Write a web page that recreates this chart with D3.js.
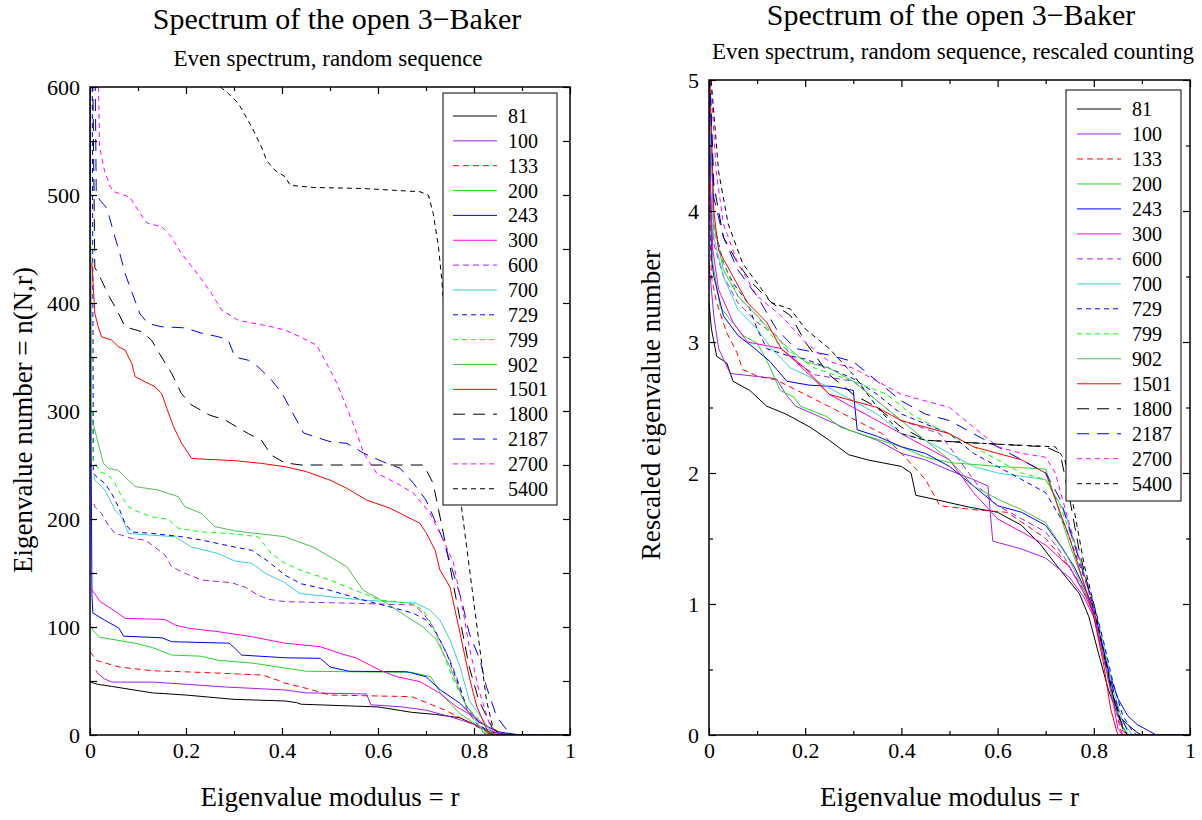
<!DOCTYPE html>
<html><head><meta charset="utf-8">
<script src="https://cdn.jsdelivr.net/npm/d3@7/dist/d3.min.js"></script>
<style>
body{margin:0;background:#fff;}
text{font-family:"Liberation Serif","Times New Roman",serif;fill:#000;}
</style></head>
<body>
<svg id="chart" width="1202" height="820"></svg>
<script>
// ---------- DATA ----------
const seriesNames = ["81","100","133","200","243","300","600","700","729","799","902","1501","1800","2187","2700","5400"];
const seriesColors = ["#000000","#a020f0","#ff0000","#22dd22","#0000ff","#ff00dd","#a020f0","#40d0d0","#0000ff","#00ff00","#50c050","#ff0000","#000000","#0000ff","#ff00ff","#000000"];
const seriesDash = ["","","6,4","","","","6,4","","5,4","5,4","","","12,8","12,8","5,4","5,4"];

const xTicksMajor = [0,0.2,0.4,0.6,0.8,1];
const xTickLabels = ["0","0.2","0.4","0.6","0.8","1"];
const xTicksMinor = [0.1,0.3,0.5,0.7,0.9];
const leftYTicks = [0,100,200,300,400,500,600];
const leftYMinor = [50,150,250,350,450,550];
const rightYTicks = [0,1,2,3,4,5];
const rightYMinor = [0.5,1.5,2.5,3.5,4.5];

// Left panel: eigenvalue number n(N,r) vs r
const left81   = [[0,50],[0.002,49],[0.015,47],[0.045,45],[0.13,39],[0.2,37],[0.3,33],[0.406,31.5],[0.43,30],[0.44,28.5],[0.6,26],[0.67,21],[0.72,19],[0.77,16],[0.8,10],[0.83,3],[0.86,1],[0.9,0],[1,0]];
const left100  = [[0.012,60],[0.016,57],[0.03,52],[0.045,49],[0.13,49],[0.2,47],[0.28,44.5],[0.406,41.7],[0.45,39],[0.576,38],[0.585,28],[0.65,26],[0.7,23],[0.75,17],[0.8,10],[0.84,3],[0.87,0],[1,0]];
const left133  = [[0,77],[0.014,69],[0.06,63],[0.13,59.5],[0.23,58],[0.36,55.5],[0.396,50],[0.406,48],[0.44,44.5],[0.5,37],[0.67,35.5],[0.74,23],[0.78,14],[0.83,2],[0.86,0],[1,0]];
const left200  = [[0.004,100],[0.006,97],[0.02,90.5],[0.094,85],[0.13,81],[0.17,74],[0.23,73],[0.27,69],[0.34,66.5],[0.406,62],[0.45,59],[0.67,58],[0.71,54],[0.73,39],[0.77,20],[0.83,2],[0.86,0],[1,0]];
const left243  = [[0,700],[0.002,300],[0.004,130],[0.006,113],[0.03,106.5],[0.06,99],[0.07,91.5],[0.15,90],[0.17,86.4],[0.29,85],[0.3,81],[0.316,74],[0.406,71.5],[0.48,71],[0.5,63],[0.54,59],[0.66,58.6],[0.7,54],[0.73,41.7],[0.77,29.6],[0.81,12],[0.85,3],[0.88,1],[0.9,0],[1,0]];
const left300  = [[0.004,135],[0.007,132.7],[0.021,123.5],[0.038,118.8],[0.059,112.7],[0.073,108],[0.156,107],[0.177,101.9],[0.205,98.8],[0.267,95.7],[0.337,91],[0.406,85],[0.479,81.8],[0.521,75.6],[0.556,71],[0.604,60],[0.639,54],[0.6875,49.4],[0.729,38.6],[0.764,26],[0.8,17],[0.85,0],[1,0]];
const left600  = [[0.008,214],[0.01,211.4],[0.024,205],[0.038,194.4],[0.052,186.7],[0.066,185],[0.087,182],[0.115,180.5],[0.135,174],[0.156,166.7],[0.17,155.8],[0.198,149.7],[0.233,143.5],[0.295,141],[0.323,137],[0.35,129.6],[0.372,125.6],[0.406,123.5],[0.604,121.3],[0.674,120.4],[0.694,112.7],[0.715,100],[0.729,88],[0.75,69.4],[0.771,44.7],[0.785,23],[0.82,2],[0.84,0],[1,0]];
const left700  = [[0.008,240],[0.01,236],[0.031,226.8],[0.042,217.6],[0.052,208],[0.066,202],[0.08,186.7],[0.128,185],[0.177,183.6],[0.212,174],[0.267,168],[0.302,161],[0.337,159],[0.365,149.7],[0.406,141],[0.4375,131],[0.5,128],[0.569,125],[0.68,122],[0.708,115.7],[0.729,106.5],[0.75,88],[0.771,63],[0.79,32],[0.84,1],[0.86,0],[1,0]];
const left729  = [[0.004,700],[0.006,400],[0.007,242],[0.017,237.7],[0.031,233],[0.045,223.8],[0.059,211.4],[0.073,196],[0.087,188],[0.128,186.7],[0.184,184],[0.233,180.5],[0.302,174],[0.337,171],[0.372,160.5],[0.406,148],[0.44,140],[0.5,134],[0.569,125],[0.639,117],[0.674,112.7],[0.7,106.5],[0.722,94],[0.743,75.6],[0.764,51],[0.785,26],[0.83,1],[0.85,0],[1,0]];
const left799  = [[0.005,300],[0.007,254.6],[0.021,243.8],[0.038,240.7],[0.052,233],[0.066,220.6],[0.08,211.4],[0.1,206.8],[0.128,202],[0.163,199.7],[0.184,191.4],[0.233,188],[0.288,186.7],[0.35,183.6],[0.378,168],[0.406,159],[0.4375,152.8],[0.5,143.5],[0.535,137],[0.604,125],[0.667,122],[0.694,115.7],[0.715,100],[0.736,75.6],[0.757,51],[0.785,26],[0.84,1],[0.86,0],[1,0]];
const left902  = [[0.001,470],[0.002,400],[0.003,294.7],[0.017,270],[0.028,251.5],[0.038,247],[0.059,245],[0.073,239],[0.094,230],[0.142,226.8],[0.184,220.6],[0.198,211.4],[0.233,205],[0.26,193],[0.302,189],[0.406,183.6],[0.465,174],[0.5,165],[0.535,155.8],[0.569,134],[0.618,122],[0.66,109.5],[0.694,100],[0.722,88],[0.75,63],[0.778,32],[0.82,2],[0.84,0],[1,0]];
const left1501 = [[0.004,437],[0.01,390.6],[0.017,378],[0.024,368.8],[0.045,365.7],[0.059,359.6],[0.073,356.5],[0.087,344],[0.094,331.8],[0.115,327],[0.135,322.5],[0.149,316.4],[0.16,302.5],[0.174,285.5],[0.191,270],[0.212,256],[0.302,254],[0.357,251.5],[0.406,248.5],[0.451,243.8],[0.5,236],[0.535,228.4],[0.576,217.6],[0.625,210],[0.653,203.7],[0.6875,196],[0.701,186.7],[0.719,171],[0.729,152.8],[0.75,137],[0.771,94],[0.79,54],[0.806,26],[0.83,2],[0.85,0],[1,0]];
const left1800 = [[0.004,700],[0.006,600],[0.01,433],[0.024,421],[0.04,406],[0.056,393.5],[0.073,378],[0.108,373.4],[0.128,365.7],[0.149,350],[0.17,335],[0.19,316.5],[0.21,306],[0.25,296],[0.28,292],[0.33,279],[0.357,273],[0.378,259],[0.406,252],[0.44,250],[0.695,250],[0.715,233],[0.736,187],[0.75,156],[0.77,109],[0.79,63],[0.81,32],[0.84,5],[0.86,0],[1,0]];
const left2187 = [[0.009,700],[0.011,600],[0.013,502],[0.021,495],[0.033,489],[0.04,480],[0.052,461],[0.062,446],[0.073,427.5],[0.088,409],[0.104,390],[0.121,381],[0.149,378],[0.198,377],[0.233,372],[0.267,368.8],[0.288,365.7],[0.302,350],[0.33,347],[0.35,341],[0.378,328.7],[0.4,316.5],[0.42,300],[0.445,279.6],[0.5,271.6],[0.535,270],[0.57,261],[0.61,253],[0.646,247],[0.674,233],[0.7,217.6],[0.736,180.5],[0.757,150],[0.774,125],[0.79,94.4],[0.8125,69.4],[0.826,44.7],[0.847,17],[0.875,1],[0.89,0],[1,0]];
const left2700 = [[0.015,700],[0.017,620],[0.02,544.7],[0.03,523],[0.042,507.7],[0.05,503],[0.083,498],[0.104,483],[0.12,473.8],[0.149,470.7],[0.17,461],[0.19,446],[0.218,430.5],[0.253,409],[0.274,393.5],[0.309,384],[0.378,378],[0.406,375],[0.4375,368.8],[0.472,361],[0.493,344],[0.514,326],[0.535,303],[0.556,279.6],[0.57,261],[0.597,242.6],[0.639,233],[0.674,224],[0.708,205.6],[0.736,180.5],[0.757,160],[0.778,113],[0.79,81.8],[0.81,41.7],[0.833,9],[0.85,1],[0.87,0],[1,0]];
const left5400 = [[0,2000],[0.2,700],[0.25,620],[0.267,601.8],[0.288,594],[0.309,585],[0.337,563],[0.357,544.7],[0.368,532],[0.385,523],[0.406,517],[0.417,509],[0.465,507],[0.569,506],[0.6875,503],[0.705,500],[0.715,483],[0.726,452],[0.733,421],[0.745,350],[0.76,270],[0.774,211],[0.79,156],[0.8125,78.7],[0.826,32],[0.84,6],[0.86,0],[1,0]];

// Right panel: rescaled eigenvalue number vs r
const right81   = [[0,3.3],[0.005,3.1],[0.016,2.89],[0.037,2.84],[0.05,2.7],[0.085,2.63],[0.12,2.51],[0.16,2.45],[0.21,2.35],[0.25,2.25],[0.29,2.14],[0.33,2.1],[0.4,2.05],[0.42,2.0],[0.43,1.83],[0.48,1.79],[0.54,1.74],[0.6,1.7],[0.65,1.6],[0.69,1.45],[0.73,1.26],[0.77,1.08],[0.79,0.9],[0.81,0.62],[0.83,0.35],[0.85,0.15],[0.87,0.08],[0.89,0.02],[0.9,0],[1,0]];
const right100  = [[0,3.6],[0.01,3.2],[0.02,2.95],[0.044,2.76],[0.14,2.72],[0.16,2.6],[0.18,2.51],[0.23,2.43],[0.29,2.33],[0.35,2.25],[0.4,2.15],[0.45,2.1],[0.5,2.02],[0.55,1.95],[0.58,1.9],[0.59,1.48],[0.65,1.42],[0.7,1.35],[0.75,1.2],[0.78,1.05],[0.8,0.9],[0.82,0.6],[0.84,0.3],[0.86,0.06],[0.87,0],[1,0]];
const right133  = [[0,4.2],[0.005,3.5],[0.016,3.3],[0.037,3.07],[0.058,2.92],[0.07,2.79],[0.1,2.74],[0.14,2.71],[0.2,2.6],[0.28,2.45],[0.36,2.3],[0.4,2.15],[0.45,1.95],[0.48,1.75],[0.55,1.72],[0.62,1.7],[0.66,1.6],[0.7,1.5],[0.75,1.28],[0.78,1.1],[0.8,0.92],[0.82,0.6],[0.84,0.28],[0.855,0.05],[0.86,0],[1,0]];
const right200  = [[0,4.5],[0.008,3.6],[0.023,3.27],[0.044,3.17],[0.071,3.05],[0.1,2.99],[0.12,2.86],[0.148,2.63],[0.176,2.58],[0.19,2.51],[0.245,2.43],[0.273,2.35],[0.33,2.28],[0.4,2.2],[0.45,2.12],[0.5,2.08],[0.6,2.05],[0.7,2.03],[0.72,1.8],[0.75,1.45],[0.78,1.15],[0.8,0.95],[0.82,0.65],[0.84,0.3],[0.86,0.05],[0.87,0],[1,0]];
const right243  = [[0,5.2],[0.005,3.64],[0.01,3.5],[0.03,3.2],[0.06,3.05],[0.092,2.96],[0.127,2.85],[0.162,2.7],[0.21,2.67],[0.26,2.66],[0.3,2.63],[0.308,2.33],[0.35,2.28],[0.4,2.2],[0.45,2.15],[0.5,2.05],[0.55,1.9],[0.6,1.75],[0.65,1.7],[0.7,1.6],[0.73,1.45],[0.76,1.28],[0.79,1.05],[0.81,0.8],[0.83,0.5],[0.85,0.28],[0.87,0.15],[0.89,0.08],[0.91,0.04],[0.93,0],[1,0]];
const right300  = [[0,4.5],[0.008,3.7],[0.02,3.4],[0.05,3.15],[0.08,3.0],[0.15,2.95],[0.18,2.85],[0.25,2.6],[0.3,2.5],[0.4,2.3],[0.5,2.1],[0.55,1.85],[0.6,1.65],[0.65,1.55],[0.7,1.45],[0.75,1.28],[0.78,1.08],[0.8,0.92],[0.82,0.6],[0.84,0.25],[0.85,0.05],[0.86,0],[1,0]];
const right600  = [[0,5.2],[0.01,3.75],[0.03,3.5],[0.06,3.3],[0.1,3.15],[0.14,3.05],[0.18,2.85],[0.22,2.75],[0.3,2.7],[0.35,2.55],[0.4,2.4],[0.48,2.3],[0.52,2.1],[0.56,1.9],[0.6,1.75],[0.65,1.65],[0.7,1.55],[0.74,1.35],[0.77,1.15],[0.8,0.95],[0.82,0.65],[0.84,0.3],[0.86,0.06],[0.87,0],[1,0]];
const right700  = [[0,5.2],[0.01,3.8],[0.03,3.5],[0.06,3.25],[0.1,3.1],[0.13,2.95],[0.17,2.8],[0.2,2.75],[0.25,2.65],[0.3,2.55],[0.35,2.45],[0.4,2.3],[0.45,2.25],[0.5,2.15],[0.55,2.05],[0.6,2.0],[0.7,1.95],[0.74,1.7],[0.77,1.35],[0.8,1.0],[0.82,0.7],[0.84,0.35],[0.86,0.1],[0.88,0],[1,0]];
const right729  = [[0,5.2],[0.01,3.9],[0.03,3.6],[0.05,3.45],[0.08,3.3],[0.1,3.1],[0.12,2.95],[0.16,2.9],[0.2,2.87],[0.25,2.8],[0.3,2.72],[0.35,2.6],[0.4,2.45],[0.5,2.3],[0.55,2.15],[0.6,2.05],[0.65,1.95],[0.7,1.85],[0.74,1.6],[0.77,1.3],[0.8,1.0],[0.82,0.72],[0.84,0.4],[0.86,0.15],[0.88,0.03],[0.89,0],[1,0]];
const right799  = [[0,5.2],[0.01,3.85],[0.03,3.6],[0.06,3.35],[0.1,3.2],[0.14,3.0],[0.18,2.9],[0.22,2.8],[0.3,2.7],[0.37,2.6],[0.42,2.45],[0.47,2.35],[0.55,2.2],[0.6,2.1],[0.65,2.0],[0.7,1.95],[0.73,1.75],[0.76,1.45],[0.79,1.1],[0.81,0.8],[0.83,0.45],[0.85,0.15],[0.87,0],[1,0]];
const right902  = [[0,5.2],[0.01,3.9],[0.03,3.55],[0.06,3.35],[0.1,3.2],[0.15,3.0],[0.2,2.85],[0.25,2.8],[0.3,2.7],[0.35,2.55],[0.4,2.4],[0.45,2.25],[0.5,2.1],[0.55,1.9],[0.6,1.8],[0.65,1.72],[0.7,1.62],[0.74,1.4],[0.77,1.18],[0.8,0.95],[0.82,0.62],[0.84,0.28],[0.86,0.05],[0.87,0],[1,0]];
const right1501 = [[0,5.2],[0.01,4.0],[0.02,3.7],[0.05,3.5],[0.08,3.3],[0.12,3.15],[0.15,2.95],[0.2,2.8],[0.25,2.6],[0.3,2.55],[0.35,2.5],[0.4,2.4],[0.45,2.35],[0.5,2.3],[0.55,2.2],[0.6,2.15],[0.65,2.1],[0.7,2.0],[0.72,1.8],[0.75,1.5],[0.78,1.15],[0.8,0.9],[0.82,0.55],[0.835,0.2],[0.85,0],[1,0]];
const right1800 = [[0,5.2],[0.01,4.2],[0.03,3.8],[0.06,3.6],[0.09,3.45],[0.13,3.3],[0.17,3.2],[0.2,3.0],[0.25,2.75],[0.3,2.6],[0.35,2.5],[0.4,2.35],[0.45,2.25],[0.55,2.23],[0.7,2.2],[0.73,2.15],[0.75,1.8],[0.77,1.4],[0.79,1.1],[0.81,0.8],[0.83,0.45],[0.85,0.15],[0.87,0],[1,0]];
const right2187 = [[0,5.2],[0.01,4.1],[0.03,3.8],[0.06,3.55],[0.1,3.35],[0.14,3.1],[0.18,2.95],[0.25,2.9],[0.3,2.85],[0.35,2.7],[0.4,2.55],[0.45,2.45],[0.5,2.4],[0.55,2.3],[0.6,2.2],[0.65,2.1],[0.7,2.0],[0.73,1.8],[0.76,1.45],[0.79,1.1],[0.81,0.8],[0.83,0.5],[0.85,0.2],[0.87,0.03],[0.88,0],[1,0]];
const right2700 = [[0,5.2],[0.015,4.3],[0.03,3.9],[0.06,3.6],[0.1,3.35],[0.15,3.2],[0.2,3.0],[0.25,2.85],[0.3,2.8],[0.35,2.7],[0.4,2.6],[0.45,2.55],[0.5,2.5],[0.55,2.35],[0.6,2.2],[0.65,2.15],[0.7,2.12],[0.72,2.0],[0.75,1.6],[0.78,1.22],[0.8,0.95],[0.82,0.6],[0.84,0.25],[0.86,0.03],[0.87,0],[1,0]];
const right5400 = [[0,5.2],[0.02,4.3],[0.04,3.9],[0.07,3.6],[0.1,3.45],[0.13,3.3],[0.17,3.25],[0.2,3.1],[0.25,2.95],[0.3,2.75],[0.35,2.5],[0.4,2.3],[0.45,2.25],[0.6,2.22],[0.72,2.2],[0.74,2.1],[0.76,1.7],[0.78,1.3],[0.8,1.0],[0.82,0.65],[0.84,0.3],[0.86,0.05],[0.87,0],[1,0]];

const leftSeries  = [left81,left100,left133,left200,left243,left300,left600,left700,left729,left799,left902,left1501,left1800,left2187,left2700,left5400];
const rightSeries = [right81,right100,right133,right200,right243,right300,right600,right700,right729,right799,right902,right1501,right1800,right2187,right2700,right5400];

// ---------- DRAW ----------
const svg = d3.select("#chart");
const SERIF = '"Liberation Serif","Times New Roman",serif';

function panel(cfg){
  const g = svg.append("g");
  const x = d3.scaleLinear().domain([0,1]).range([cfg.x0,cfg.x1]);
  const y = d3.scaleLinear().domain(cfg.ydom).range([cfg.y0,cfg.y1]);
  const clipId = "clip"+cfg.id;
  svg.append("clipPath").attr("id",clipId).append("rect")
    .attr("x",cfg.x0).attr("y",cfg.y1).attr("width",cfg.x1-cfg.x0).attr("height",cfg.y0-cfg.y1);

  const line = d3.line().x(d=>x(d[0])).y(d=>y(d[1]));
  const curves = g.append("g").attr("clip-path",`url(#${clipId})`);
  cfg.series.forEach((s,i)=>{
    curves.append("path").attr("d",line(s)).attr("fill","none")
      .attr("stroke",seriesColors[i]).attr("stroke-width",1)
      .attr("stroke-dasharray",seriesDash[i]||null);
  });

  // axes with inward ticks
  g.append("g").attr("transform",`translate(0,${cfg.y0})`)
    .call(d3.axisBottom(x).tickValues(xTicksMajor).tickFormat((d,i)=>xTickLabels[i]).tickSize(-7).tickPadding(7));
  g.append("g").attr("transform",`translate(0,${cfg.y0})`)
    .call(d3.axisBottom(x).tickValues(xTicksMinor).tickFormat("").tickSize(-4));
  g.append("g").attr("transform",`translate(0,${cfg.y1})`)
    .call(d3.axisTop(x).tickValues(xTicksMajor).tickFormat("").tickSize(-7));
  g.append("g").attr("transform",`translate(0,${cfg.y1})`)
    .call(d3.axisTop(x).tickValues(xTicksMinor).tickFormat("").tickSize(-4));
  g.append("g").attr("transform",`translate(${cfg.x0},0)`)
    .call(d3.axisLeft(y).tickValues(cfg.yticks).tickFormat(d3.format("d")).tickSize(-7).tickPadding(10));
  g.append("g").attr("transform",`translate(${cfg.x0},0)`)
    .call(d3.axisLeft(y).tickValues(cfg.yminor).tickFormat("").tickSize(-cfg.minorLen));
  g.append("g").attr("transform",`translate(${cfg.x1},0)`)
    .call(d3.axisRight(y).tickValues(cfg.yticks).tickFormat("").tickSize(-7));
  g.append("g").attr("transform",`translate(${cfg.x1},0)`)
    .call(d3.axisRight(y).tickValues(cfg.yminor).tickFormat("").tickSize(-cfg.minorLen));
  g.selectAll(".domain").remove();
  g.selectAll(".tick line").attr("stroke","#000").attr("stroke-width",1.2);
  g.selectAll(".tick text").attr("font-family",SERIF).attr("font-size",22).attr("fill","#000");

  // frame
  g.append("rect").attr("x",cfg.x0).attr("y",cfg.y1).attr("width",cfg.x1-cfg.x0).attr("height",cfg.y0-cfg.y1)
    .attr("fill","none").attr("stroke","#000").attr("stroke-width",1.5);

  // legend
  const L = cfg.legend;
  g.append("rect").attr("x",L.x).attr("y",L.y).attr("width",L.w).attr("height",L.h)
    .attr("fill","#fff").attr("stroke","#000").attr("stroke-width",1);
  seriesNames.forEach((nm,i)=>{
    const yy = L.first + i*L.step;
    g.append("line").attr("x1",L.sx0).attr("x2",L.sx1).attr("y1",yy).attr("y2",yy)
      .attr("stroke",seriesColors[i]).attr("stroke-width",1).attr("stroke-dasharray",seriesDash[i]||null);
    g.append("text").attr("x",L.tx).attr("y",yy).attr("dy","0.35em").attr("font-size",20).text(nm);
  });

  // titles
  g.append("text").attr("x",cfg.tcx).attr("y",cfg.ty).attr("text-anchor","middle").attr("font-size",30).text("Spectrum of the open 3\u2212Baker");
  g.append("text").attr("x",cfg.scx).attr("y",cfg.sy).attr("text-anchor","middle").attr("font-size",23).text(cfg.subtitle);
  g.append("text").attr("x",(cfg.x0+cfg.x1)/2).attr("y",806).attr("text-anchor","middle").attr("font-size",27).text("Eigenvalue modulus = r");
  g.append("text").attr("transform",`translate(${cfg.ylx},${cfg.yly}) rotate(-90)`).attr("text-anchor","middle").attr("font-size",27).text(cfg.ylabel);
}

panel({id:"L",x0:90,x1:570,y0:735,y1:87,ydom:[0,600],series:leftSeries,
  yticks:leftYTicks,yminor:leftYMinor,minorLen:7,
  legend:{x:443,y:93,w:114,h:412,first:116,step:24.85,sx0:453,sx1:497,tx:508},
  tcx:337,ty:29,scx:328,sy:66,subtitle:"Even spectrum, random sequence",
  ylabel:"Eigenvalue number = n(N,r)",ylx:32,yly:420});

panel({id:"R",x0:709,x1:1190,y0:735,y1:80,ydom:[0,5],series:rightSeries,
  yticks:rightYTicks,yminor:rightYMinor,minorLen:4,
  legend:{x:1066,y:90,w:115,h:411,first:109,step:24.98,sx0:1077,sx1:1121,tx:1132},
  tcx:951,ty:25,scx:953,sy:59,subtitle:"Even spectrum, random sequence, rescaled counting",
  ylabel:"Rescaled eigenvalue number",ylx:660,yly:405});
</script>
</body></html>
